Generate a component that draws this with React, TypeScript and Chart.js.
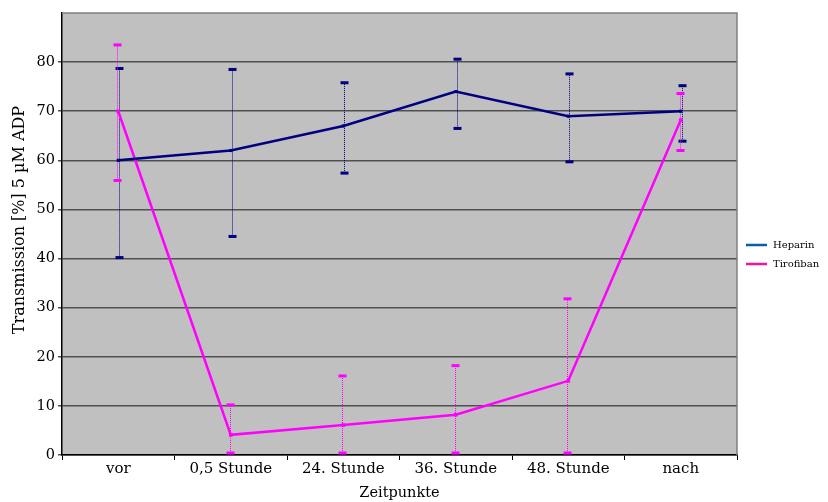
import React, { useEffect, useRef } from "react";
import { Chart, registerables } from "chart.js";

Chart.register(...registerables);

const categories = ["vor", "0,5 Stunde", "24. Stunde", "36. Stunde", "48. Stunde", "nach"];
const heparin = [60, 62, 67, 74, 69, 70];
const heparinLow = [40.2, 44.5, 57.4, 66.5, 59.7, 63.9];
const heparinHigh = [78.7, 78.5, 75.8, 80.6, 77.6, 75.2];
const tirofiban = [70, 4.1, 6.1, 8.2, 15.1, 68.2];
const tirofibanLow = [55.9, 0.4, 0.4, 0.4, 0.4, 62.0];
const tirofibanHigh = [83.5, 10.2, 16.1, 18.2, 31.8, 73.6];
const yTicks = [0, 10, 20, 30, 40, 50, 60, 70, 80];
const yTitle = "Transmission [%] 5 µM ADP";

const heparinColor = "#000080";
const tirofibanColor = "#ff00ff";
const FONT = "'DejaVu Serif', 'Liberation Serif', serif";

const errorBars = {
  id: "errorBars",
  beforeDatasetsDraw(chart: any) {
    const { ctx, scales } = chart;
    const x = scales.x;
    const y = scales.y;
    const sets = [
      { low: heparinLow, high: heparinHigh, color: heparinColor, dx: 1 },
      { low: tirofibanLow, high: tirofibanHigh, color: tirofibanColor, dx: -1 },
    ];
    ctx.save();
    sets.forEach((s) => {
      s.low.forEach((lo, i) => {
        const px = Math.round(x.getPixelForValue(i)) + 0.5 + s.dx;
        const y1 = y.getPixelForValue(lo);
        const y2 = y.getPixelForValue(s.high[i]);
        ctx.strokeStyle = s.color;
        ctx.lineWidth = 1;
        ctx.setLineDash([1, 1]);
        ctx.beginPath();
        ctx.moveTo(px, y1);
        ctx.lineTo(px, y2);
        ctx.stroke();
        ctx.setLineDash([]);
        ctx.fillStyle = s.color;
        ctx.fillRect(px - 4, y1 - 1.5, 8, 3);
        ctx.fillRect(px - 4, y2 - 1.5, 8, 3);
      });
    });
    ctx.restore();
  },
};

const chartFrame = {
  id: "chartFrame",
  beforeDraw(chart: any) {
    const { ctx, chartArea } = chart;
    ctx.save();
    ctx.fillStyle = "#c0c0c0";
    ctx.fillRect(chartArea.left, chartArea.top, chartArea.right - chartArea.left, chartArea.bottom - chartArea.top);
    ctx.restore();
  },
  afterDraw(chart: any) {
    const { ctx, chartArea } = chart;
    ctx.save();
    ctx.strokeStyle = "#808080";
    ctx.lineWidth = 1.5;
    ctx.beginPath();
    ctx.moveTo(chartArea.left, chartArea.top);
    ctx.lineTo(chartArea.right, chartArea.top);
    ctx.lineTo(chartArea.right, chartArea.bottom);
    ctx.stroke();
    // y-axis title
    ctx.save();
    ctx.translate(20, 220);
    ctx.rotate(-Math.PI / 2);
    ctx.font = "16px " + FONT;
    ctx.fillStyle = "#000";
    ctx.textAlign = "center";
    ctx.textBaseline = "middle";
    ctx.fillText(yTitle, 0, 0);
    ctx.restore();
    // legend
    const items = [
      { label: "Heparin", color: "#0a5cb0" },
      { label: "Tirofiban", color: "#f0169a" },
    ];
    ctx.font = "10px " + FONT;
    ctx.textBaseline = "middle";
    items.forEach((it, i) => {
      const yy = 245 + i * 19;
      ctx.strokeStyle = it.color;
      ctx.lineWidth = 2.5;
      ctx.beginPath();
      ctx.moveTo(746, yy);
      ctx.lineTo(767, yy);
      ctx.stroke();
      ctx.fillStyle = "#000";
      ctx.fillText(it.label, 773, yy);
    });
    ctx.restore();
  },
};

export default function App() {
  const ref = useRef<HTMLCanvasElement>(null);
  useEffect(() => {
    if (!ref.current) return;
    const chart = new Chart(ref.current, {
      type: "line",
      data: {
        labels: categories,
        datasets: [
          {
            label: "Heparin",
            data: heparin,
            borderColor: heparinColor,
            backgroundColor: heparinColor,
            borderWidth: 2.5,
            pointStyle: "rect",
            pointRadius: 2.2,
            pointBorderWidth: 0,
            tension: 0,
          },
          {
            label: "Tirofiban",
            data: tirofiban,
            borderColor: tirofibanColor,
            backgroundColor: tirofibanColor,
            borderWidth: 2.5,
            pointStyle: "rect",
            pointRadius: 2.6,
            pointBorderWidth: 0,
            tension: 0,
          },
        ],
      },
      options: {
        animation: false,
        responsive: false,
        layout: { padding: { top: 13, right: 91, left: 0, bottom: 0 } },
        plugins: { legend: { display: false }, tooltip: { enabled: false } },
        scales: {
          x: {
            offset: true,
            afterFit(scale: any) {
              scale.height = 47;
            },
            grid: {
              offset: true,
              drawOnChartArea: false,
              drawTicks: true,
              tickLength: 5,
              color: "#000",
            },
            border: { color: "#000", width: 1.5 },
            ticks: { color: "#000", font: { family: FONT, size: 15 }, padding: 0 },
            title: {
              display: true,
              text: "Zeitpunkte",
              color: "#000",
              font: { family: FONT, size: 14.5 },
              padding: { top: 2, bottom: 0 },
            },
          },
          y: {
            min: 0,
            max: 90,
            afterFit(scale: any) {
              scale.width = 62;
            },
            afterBuildTicks(scale: any) {
              scale.ticks = yTicks.map((v) => ({ value: v }));
            },
            grid: { color: "#505050", lineWidth: 1.5, drawTicks: true, tickLength: 4 },
            border: { color: "#000", width: 1.5 },
            ticks: { color: "#000", font: { family: FONT, size: 14.5 }, padding: 3 },
            title: { display: false },
          },
        },
      },
      plugins: [chartFrame, errorBars],
    });
    return () => chart.destroy();
  }, []);
  return (
    <div style={{ position: "fixed", left: 0, top: 0, width: 828, height: 502, background: "#fff" }}>
      <canvas ref={ref} width={828} height={502} style={{ width: 828, height: 502 }} />
    </div>
  );
}
